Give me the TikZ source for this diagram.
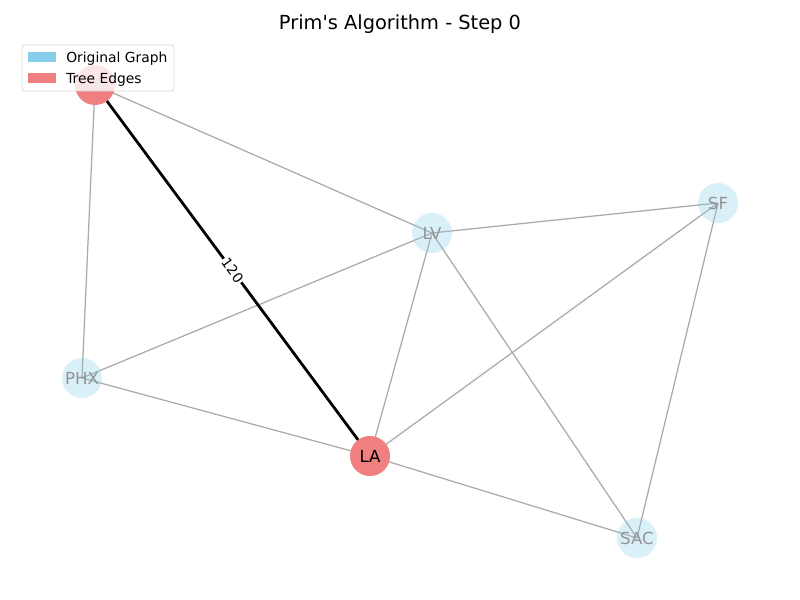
\documentclass[tikz,border=0pt]{standalone}
\usepackage{fontspec}
\setmainfont{DejaVu Sans}
\definecolor{skyblue}{RGB}{135,206,235}
\definecolor{lightcoral}{RGB}{240,128,128}
\definecolor{edgegray}{RGB}{170,170,170}
\begin{document}
\begin{tikzpicture}[x=0.01in,y=-0.01in,
  graphedge/.style={draw=edgegray,line width=0.9pt},
  treeedge/.style={draw=black,line width=2pt},
  lightnode/.style={circle,minimum size=0.4in,inner sep=0pt,fill=skyblue,fill opacity=0.3,text opacity=1,text=black!42,font=\fontsize{12}{14}\selectfont},
  treenode/.style={circle,minimum size=0.4in,inner sep=0pt,fill=lightcoral,text=black,font=\fontsize{12}{14}\selectfont},
  sdnode/.style={circle,minimum size=0.4in,inner sep=0pt,fill=lightcoral,text=black!42,font=\fontsize{12}{14}\selectfont},
  wlabel/.style={fill=white,inner sep=1pt,font=\fontsize{10}{12}\selectfont},
  legtext/.style={anchor=west,inner sep=0pt,font=\fontsize{10}{12}\selectfont}]
\useasboundingbox[fill=white] (0,0) rectangle (800,600);
% node centers
\coordinate (cSD) at (95,85);
\coordinate (cLV) at (432,233);
\coordinate (cSF) at (718,203);
\coordinate (cPHX) at (82,378);
\coordinate (cLA) at (370,456);
\coordinate (cSAC) at (637,538);
% edges
\draw[graphedge] (cSD) -- (cLV);
\draw[graphedge] (cSD) -- (cPHX);
\draw[graphedge] (cLV) -- (cSF);
\draw[graphedge] (cLV) -- (cPHX);
\draw[graphedge] (cLV) -- (cLA);
\draw[graphedge] (cLV) -- (cSAC);
\draw[graphedge] (cSF) -- (cLA);
\draw[graphedge] (cSF) -- (cSAC);
\draw[graphedge] (cPHX) -- (cLA);
\draw[graphedge] (cLA) -- (cSAC);
\draw[treeedge] (cSD) -- node[wlabel,sloped,pos=0.5] {120} (cLA);
% nodes
\node[sdnode] (SD) at (cSD) {SD};
\node[lightnode] (LV) at (cLV) {LV};
\node[lightnode] (SF) at (cSF) {SF};
\node[lightnode] (PHX) at (cPHX) {PHX};
\node[treenode] (LA) at (cLA) {LA};
\node[lightnode] (SAC) at (cSAC) {SAC};
% title
\node[font=\fontsize{14}{16}\selectfont] (title) at (400,24) {Prim\textquotesingle s Algorithm - Step 0};
% legend
\draw[draw=black!15,fill=white,fill opacity=0.8,rounded corners=2pt,line width=0.6pt] (22,45) rectangle (174,91);
\fill[skyblue] (28,52) rectangle (56,62);
\fill[lightcoral] (28,73) rectangle (56,83);
\node[legtext] (l1) at (66,58.5) {Original Graph};
\node[legtext] (l2) at (66,79.5) {Tree Edges};
\end{tikzpicture}
\end{document}
